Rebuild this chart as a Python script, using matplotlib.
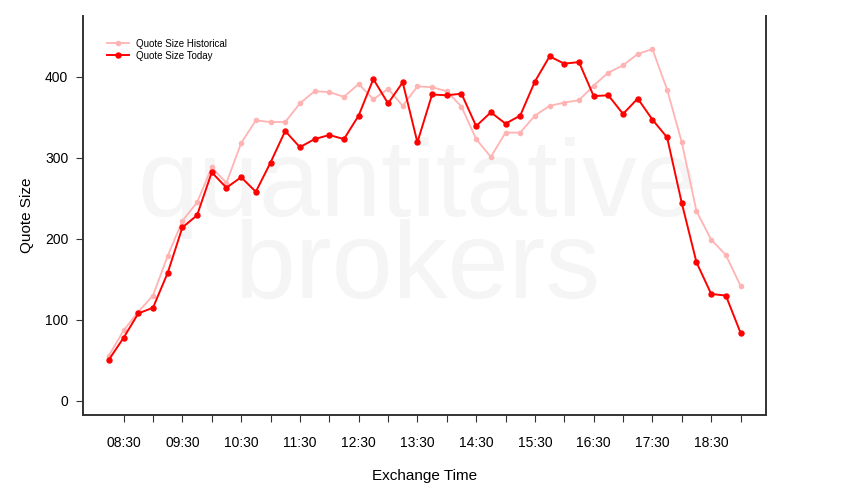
import matplotlib.pyplot as plt
import pandas as pd

plt.rcParams['font.family'] = ['Liberation Sans', 'DejaVu Sans']

times = pd.date_range("2020-01-01 08:15", "2020-01-01 19:00", freq="15min")
hist = [56, 87, 110, 130, 179, 222, 245, 288, 269, 318, 346, 344, 344, 367, 382, 381,
        375, 391, 372, 385, 364, 388, 387, 382, 363, 323, 301, 331, 331, 352, 364, 368,
        371, 389, 405, 414, 428, 434, 384, 319, 234, 199, 180, 142]
today = [51, 78, 108, 115, 158, 214, 229, 282, 263, 276, 258, 294, 333, 313, 323, 328,
         323, 352, 397, 367, 393, 319, 378, 377, 379, 339, 356, 342, 352, 394, 425, 416,
         418, 376, 377, 354, 373, 347, 325, 244, 171, 132, 130, 84]
tick_times = pd.date_range("2020-01-01 08:30", "2020-01-01 19:00", freq="30min")

def hours(ts):
    return ts.hour + ts.minute / 60.0

x = hours(times)

fig = plt.figure(figsize=(8.5, 5), dpi=100)
ax = fig.add_axes([0.0982, 0.17, 0.8030, 0.798])

# watermark behind the lines
ax.text(0.4915, 0.568, "quantitative", fontsize=79, color="#f5f5f5",
        ha="center", va="baseline", transform=fig.transFigure, zorder=0)
ax.text(0.4915, 0.404, "brokers", fontsize=79, color="#f5f5f5",
        ha="center", va="baseline", transform=fig.transFigure, zorder=0)

ax.plot(x, hist, color="#ffb3b3", lw=1.3, marker="o", ms=3, label="Quote Size Historical")
ax.plot(x, today, color="#ff0000", lw=1.4, marker="o", ms=3.6, label="Quote Size Today")

ax.set_xlim(8.25 - 26 / 60, 19 + 26 / 60)
ax.set_ylim(-17.3, 474.8)

tx = hours(tick_times)
ax.set_xticks(tx)
ax.set_xticklabels([t.strftime("%H:%M") if t.minute == 30 else "" for t in tick_times])
ax.set_yticks([0, 100, 200, 300, 400])

for side in ["left", "bottom", "right"]:
    ax.spines[side].set_color("#333333")
    ax.spines[side].set_linewidth(1.4)
ax.spines["top"].set_visible(False)
ax.tick_params(axis="both", colors="#333333", labelcolor="black", length=5, width=0.8,
               labelsize=10)
ax.tick_params(axis="x", pad=10)
ax.tick_params(axis="y", pad=6)

ax.set_xlabel("Exchange Time", fontsize=11, labelpad=14)
ax.set_ylabel("Quote Size", fontsize=11, labelpad=8)

ax.legend(loc="upper left", bbox_to_anchor=(0.022, 0.965), frameon=False, fontsize=7,
          handlelength=2.2, handletextpad=0.8, labelspacing=0.2)

fig.savefig("out.png", dpi=100)
